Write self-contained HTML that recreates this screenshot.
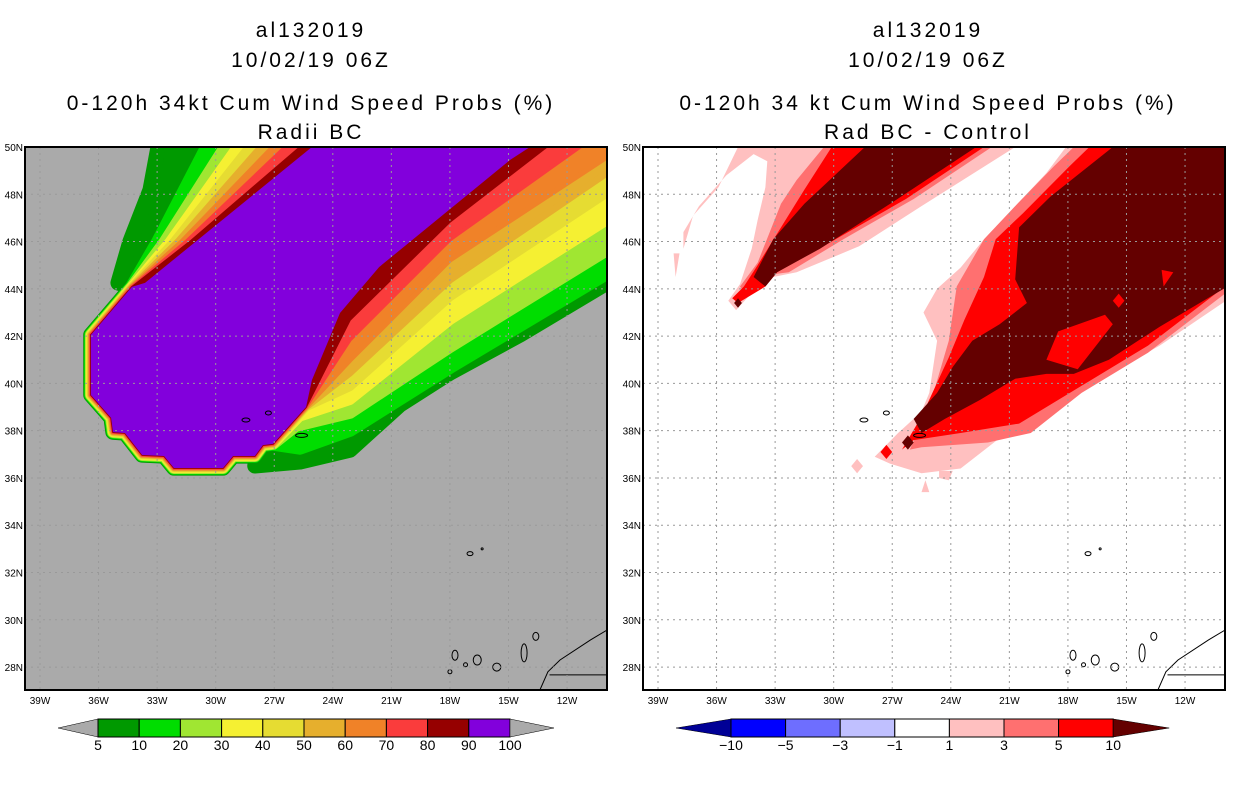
<!DOCTYPE html>
<html><head><meta charset="utf-8"><style>
body{margin:0;background:#fff;}
svg text{font-family:"Liberation Sans",sans-serif;}
.ttl text{letter-spacing:3px;}
</style></head><body>
<svg id="svg" width="1236" height="800" viewBox="0 0 1236 800" xmlns="http://www.w3.org/2000/svg">
<g class="ttl" font-size="21" text-anchor="middle" fill="#000">
<text x="311" y="37">al132019</text><text x="311" y="67">10/02/19 06Z</text>
<text x="311" y="110">0-120h 34kt Cum Wind Speed Probs (%)</text><text x="311" y="139">Radii BC</text></g>
<g class="ttl" font-size="21" text-anchor="middle" fill="#000">
<text x="928" y="37">al132019</text><text x="928" y="67">10/02/19 06Z</text>
<text x="928" y="110">0-120h 34 kt Cum Wind Speed Probs (%)</text><text x="928" y="139">Rad BC - Control</text></g>
<defs>
<clipPath id="clipL"><rect x="25" y="147" width="582" height="543"/></clipPath>
<clipPath id="clipR"><rect x="643" y="147" width="582" height="543"/></clipPath>
</defs>
<g id="left"></g>
<g id="right"></g>
<g id="cbars"></g>
</svg>
<script>
// ---- data ----
const lonTicks=[-39,-36,-33,-30,-27,-24,-21,-18,-15,-12];
const latTicks=[28,30,32,34,36,38,40,42,44,46,48,50];
const probLevels=[5,10,20,30,40,50,60,70,80,90,100];
const probColors=["#009900","#00dd00","#a0e632","#f5f032","#e6dc32","#e6af2d","#f08228","#fa3c3c","#960000","#8200dc"];
const diffLevels=[-10,-5,-3,-1,1,3,5,10];
const diffColors=["#000096","#0000ff","#6e6eff","#c0c0ff","#ffffff","#ffc0c0","#ff7070","#ff0000","#640000"];
// purple (>=90) core region boundary (lon,lat)
const corePoly=[[-25.07,50],[-33.62,44.25],[-34.29,44.08],[-36.39,42.05],[-36.39,39.51],[-35.36,38.54],[-35.26,37.94],[-34.65,37.9],[-33.77,36.97],[-32.65,36.93],[-32.14,36.42],[-29.62,36.42],[-29.11,36.93],[-27.99,36.93],[-27.58,37.39],[-27.06,37.44],[-25.37,39],[-25.07,40.14],[-23.63,42.98],[-21.63,44.92],[-14.92,49.45],[-13.9,50]];
// upper-left contour lons at 50N and 46N for levels 5..80
const ulLon50=[-32.95,-30.44,-29.52,-28.9,-28.29,-27.68,-27.06,-26.45,-25.68];
const ulLon46=[-34.39,-32.95,-32.6,-32.34,-32.14,-31.93,-31.73,-31.52,-31.32];
// lower-right contour lats at right edge (-9.95), at 18W, at 23.12W
const lrLatEdge=[44.25,44.67,45.64,46.91,48.05,48.9,49.58,50.6,50.6];
const lrLonTop=[null,null,null,null,null,null,null,-10.31,-12.1];
const lrLat18=[40.44,40.69,41.54,42.68,43.65,44.37,45.22,46.07,46.83];
const lrLat23=[37.18,38.03,38.75,39.3,39.85,40.44,40.99,41.84,42.68];
const lrEnd=[[-27.99,36.51],[-25.68,37.27],[-25.9,38.2],[-25.7,38.6],[-25.37,39],[-25.37,39],[-25.37,39],[-25.37,39],[-25.37,39]];
// difference contours
const diffPolys=[
 {lev:5,pts:[[-34.9,50],[-20.7,50],[-25.5,47.5],[-28.7,45.8],[-31.9,44.7],[-33.1,44.5],[-33.9,44.1],[-35.0,43.1],[-35.4,43.5],[-34.8,44.2],[-34.2,45.7],[-33.9,46.9],[-33.5,48.3],[-33.4,49.4],[-34.1,49.7],[-35.5,48.8],[-36.9,47.5],[-37.7,46.4],[-37.7,45.7],[-37.2,47.1],[-35.9,48.3]]},
 {lev:5,pts:[[-38.2,45.5],[-37.9,45.5],[-38.1,44.5]]},
 {lev:5,pts:[[-18.1,50],[-9,50],[-9,44.0],[-13.3,41.6],[-16.3,40.2],[-18.7,39.0],[-20.7,38.2],[-23.5,36.4],[-25.5,36.2],[-27.1,36.6],[-27.9,36.9],[-26.7,37.9],[-25.5,38.8],[-25.1,39.6],[-24.7,41.8],[-25.4,43.0],[-24.7,44.0],[-23.5,44.9],[-22.3,46.1],[-20.7,47.5],[-19.1,48.9]]},
 {lev:5,pts:[[-28.8,36.8],[-28.5,36.5],[-28.8,36.2],[-29.1,36.5]]},
 {lev:5,pts:[[-25.3,35.9],[-25.1,35.4],[-25.5,35.4]]},
 {lev:5,pts:[[-24.6,36.3],[-23.9,36.3],[-24.1,35.9],[-24.6,36.0]]},
 {lev:6,pts:[[-30.5,50],[-21.9,50],[-25.9,47.8],[-29.5,46.1],[-32.3,44.7],[-33.3,44.6],[-34.5,43.7],[-34.8,44.1],[-33.9,45.1],[-32.7,47.6],[-31.9,48.6]]},
 {lev:6,pts:[[-17.7,50],[-9,50],[-9,44.4],[-13.9,41.3],[-17.3,39.6],[-19.9,37.9],[-22.1,37.5],[-25.5,37.3],[-26.1,37.2],[-25.1,39.0],[-24.1,41.8],[-23.7,44.1],[-22.3,46.1],[-20.7,47.5],[-18.7,49.2]]},
 {lev:7,pts:[[-30.1,50],[-22.3,50],[-26.3,47.8],[-29.9,46.1],[-32.9,44.7],[-33.5,44.1],[-34.9,43.4],[-35.2,43.6],[-34.6,44.1],[-33.9,45.0],[-32.7,46.6],[-31.5,48.2]]},
 {lev:7,pts:[[-16.9,50],[-9,50],[-9,44.7],[-13.9,41.6],[-17.3,39.9],[-20.5,38.3],[-23.5,37.9],[-25.9,37.6],[-26.5,37.2],[-25.5,38.6],[-24.1,41.1],[-23.3,42.7],[-22.3,44.5],[-21.7,46.1],[-20.3,47.2],[-17.9,49.2]]},
 {lev:7,pts:[[-27.3,37.4],[-27.0,37.1],[-27.3,36.8],[-27.6,37.1]]},
 {lev:8,pts:[[-28.4,50],[-22.7,50],[-27.1,47.6],[-30.7,45.7],[-32.9,44.7],[-33.5,44.1],[-34.1,44.5],[-33.1,46.1],[-31.5,47.6]]},
 {lev:8,pts:[[-15.7,50],[-9,50],[-9,44.5],[-13.3,42.4],[-15.9,41.0],[-17.7,40.4],[-19.1,40.4],[-20.7,40.2],[-22.5,39.3],[-24.3,38.5],[-25.5,37.9],[-25.9,38.5],[-24.7,39.6],[-23.9,40.7],[-22.9,41.8],[-21.5,42.5],[-20.1,43.4],[-20.7,44.4],[-20.5,46.6],[-18.9,47.9]]},
 {lev:7,pts:[[-19.1,41.0],[-18.5,42.2],[-16.1,42.9],[-15.7,42.5],[-17.5,40.6]]},
 {lev:7,pts:[[-15.4,43.8],[-15.1,43.5],[-15.4,43.2],[-15.7,43.5]]},
 {lev:7,pts:[[-13.2,44.8],[-12.6,44.7],[-13.1,44.1]]},
 {lev:8,pts:[[-26.2,37.8],[-25.9,37.5],[-26.2,37.2],[-26.5,37.5]]},
 {lev:8,pts:[[-34.9,43.6],[-34.7,43.4],[-34.9,43.2],[-35.1,43.4]]}
];
// land features
const africaCoast=[[-9.95,29.57],[-10.8,29.15],[-12.36,28.3],[-12.98,27.8],[-13.39,27.03]];
const border=[[-12.9,27.67],[-9.9,27.67]];
const islands=[[-17.74,28.5,3,5],[-17.2,28.1,2,2],[-16.6,28.3,4,5],[-15.6,28.0,4,4],[-14.2,28.6,3,9],[-13.6,29.3,3,4],[-18.0,27.8,2,2],[-28.45,38.45,4,2],[-27.3,38.75,3,2],[-25.6,37.8,6,2],[-16.97,32.8,3,2],[-16.35,33.0,1,1]];

// ---- helpers ----
const NS="http://www.w3.org/2000/svg";
function X(lon,ox){return 40+(lon+39)*19.52+ox;}
function Y(lat){return 147+(50-lat)*23.64;}
function mk(tag,parent,attrs){const e=document.createElementNS(NS,tag);for(const k in attrs)e.setAttribute(k,attrs[k]);parent.appendChild(e);return e;}
function ptsStr(arr,ox){return arr.map(p=>X(p[0],ox).toFixed(1)+","+Y(p[1]).toFixed(1)).join(" ");}

function frame(g,ox,bg,clip){
  const inner=mk('g',g,{'clip-path':'url(#'+clip+')'});
  const r=mk('rect',inner,{x:25+ox,y:147,width:582,height:543,fill:bg});
  
  
  return inner;
}
function decorate(g,inner,ox){
  const c=mk('polyline',inner,{points:ptsStr(africaCoast,ox),fill:'none',stroke:'#000','stroke-width':1});
  
  
  const b=mk('polyline',inner,{points:ptsStr(border,ox),fill:'none',stroke:'#000','stroke-width':1});
  
  
  islands.forEach(is=>{
    const e=mk('ellipse',inner,{cx:X(is[0],ox),cy:Y(is[1]),rx:is[2],ry:is[3],fill:'none',stroke:'#000','stroke-width':1});
    
    
  });
  lonTicks.forEach(l=>{const ln=mk('line',inner,{x1:X(l,ox),x2:X(l,ox),y1:147,y2:690,stroke:'#999','stroke-width':1,'stroke-dasharray':'2,4'});
    
    });
  latTicks.forEach(l=>{const ln=mk('line',inner,{x1:25+ox,x2:607+ox,y1:Y(l),y2:Y(l),stroke:'#999','stroke-width':1,'stroke-dasharray':'2,4'});
    
    });
  const fr=mk('rect',g,{x:25+ox,y:147,width:582,height:543,fill:'none',stroke:'#000','stroke-width':2});
  
  
  lonTicks.forEach(l=>{const t=mk('text',g,{x:X(l,ox),y:704,'font-size':10,'text-anchor':'middle'});t.textContent=(-l)+'W';
    
    });
  latTicks.forEach(l=>{const t=mk('text',g,{x:23+ox,y:Y(l)+4,'font-size':10,'text-anchor':'end'});t.textContent=l+'N';
    
    });
}

// ---- left map ----
const L=document.getElementById('left');
const li=frame(L,0,'#aaaaaa','clipL');
for(let k=0;k<9;k++){
  const ul=[[ulLon50[k],50.6],[ulLon50[k],50],[ulLon46[k],46]];
  if(k===0){ul.splice(2,0,[-33.36,48.18]);ul.push([-35.0,44.25]);}
  const ring=corePoly.slice(2,16);
  let lr=[lrEnd[k],[-23.12,lrLat23[k]]];
  if(k===0){lr=[lrEnd[k],[-25.68,36.68],[-23.12,lrLat23[k]],[-20.56,39.09]];}
  lr.push([-18,lrLat18[k]]);
  if(k===0) lr.push([-14.41,42.05]);
  if(lrLonTop[k]!==null){lr.push([lrLonTop[k],50.6]);}
  else{lr.push([-9.95,lrLatEdge[k]]);lr.push([-9.0,lrLatEdge[k]]);lr.push([-9.0,50.6]);}
  const pts=ul.concat(ring).concat(lr);
  const w=(9-k)*1.7;
  const p=mk('polygon',li,{points:ptsStr(pts,0),fill:probColors[k],stroke:probColors[k],'stroke-width':w,'stroke-linejoin':'round'});
  
  
}
const core=mk('polygon',li,{points:ptsStr(corePoly.concat([[-13.9,50.6],[-25.07,50.6]]),0),fill:probColors[9]});


decorate(L,li,0);

// ---- right map ----
const R=document.getElementById('right');
const ri=frame(R,618,'#ffffff','clipR');
diffPolys.forEach(d=>{
  const p=mk('polygon',ri,{points:ptsStr(d.pts,618),fill:diffColors[d.lev]});
  
  
});
decorate(R,ri,618);

// ---- colorbars ----
const CB=document.getElementById('cbars');
(function(){
  const x0=98,w=41.2,y0=719,h=18;
  const lt=mk('polygon',CB,{points:`58,728 ${x0},${y0} ${x0},${y0+h}`,fill:'#aaaaaa',stroke:'#000','stroke-width':0.5});
  
  
  probColors.forEach((c,i)=>{
    const r=mk('rect',CB,{x:x0+i*w,y:y0,width:w,height:h,fill:c,stroke:'#000','stroke-width':1});
    
    
  });
  const xe=x0+10*w;
  const rt=mk('polygon',CB,{points:`${xe},${y0} ${xe+44},728 ${xe},${y0+h}`,fill:'#aaaaaa',stroke:'#000','stroke-width':0.5});
  
  
  probLevels.forEach((v,i)=>{const t=mk('text',CB,{x:x0+i*w,y:750,'font-size':14,'text-anchor':'middle'});t.textContent=v;
    
    });
})();
(function(){
  const x0=731,w=54.6,y0=719,h=18;
  const lt=mk('polygon',CB,{points:`676,728 ${x0},${y0} ${x0},${y0+h}`,fill:diffColors[0],stroke:'#000','stroke-width':0.5});
  
  
  for(let i=1;i<8;i++){
    const r=mk('rect',CB,{x:x0+(i-1)*w,y:y0,width:w,height:h,fill:diffColors[i],stroke:'#000','stroke-width':1});
    
    
  }
  const xe=x0+7*w;
  const rt=mk('polygon',CB,{points:`${xe},${y0} ${xe+56},728 ${xe},${y0+h}`,fill:diffColors[8],stroke:'#000','stroke-width':0.5});
  
  
  diffLevels.forEach((v,i)=>{const t=mk('text',CB,{x:x0+i*w,y:750,'font-size':14,'text-anchor':'middle'});t.textContent=v<0?'\u2212'+(-v):v;
    
    });
})();
</script>
</body></html>
